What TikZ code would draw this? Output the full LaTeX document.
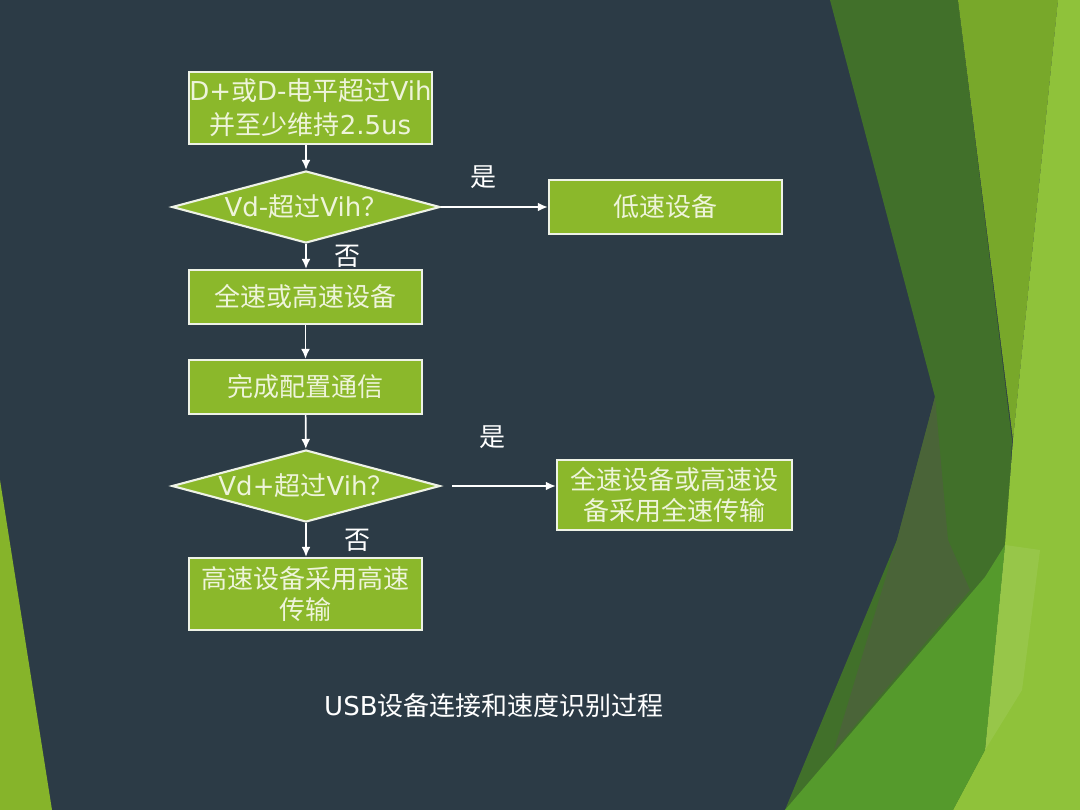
\documentclass[tikz,border=0pt]{standalone}
\usepackage{fontspec}
\setmainfont{Noto Sans CJK SC}
\newfontfamily\lat{DejaVu Sans}
\usetikzlibrary{shapes.geometric,arrows.meta}
\definecolor{tlo}{HTML}{2C3B46}
\definecolor{ziel}{HTML}{8BB82B}
\definecolor{napis}{HTML}{EEF4DA}
\definecolor{ramka}{HTML}{EEF2E6}
\definecolor{ciemnyziel}{HTML}{41702A}
\definecolor{sredniziel}{HTML}{78A82A}
\definecolor{jasnyziel}{HTML}{8FC23A}
\definecolor{mocnyziel}{HTML}{559A2C}
\definecolor{oliwka}{HTML}{4A6438}
\definecolor{lewyziel}{HTML}{86B42A}

\begin{document}
\begin{tikzpicture}[
  x=0.025cm, y=-0.025cm,
  font=\fontsize{18.5}{22}\selectfont,
  blk/.style={draw=ramka, line width=1.5pt, fill=ziel, text=napis, align=center,
    minimum width=5.83cm, minimum height=1.35cm, inner sep=0},
  romb/.style={diamond, aspect=3.72, draw=ramka, line width=1.5pt, fill=ziel, text=napis,
    minimum width=6.7cm, minimum height=1.8cm, inner sep=0},
  opis/.style={text=white, inner sep=0},
  strz/.style={draw=white, line width=1.2pt, -{Latex[length=2.5mm,width=2.2mm]}},
]
\useasboundingbox (0,0) rectangle (1080,810);
% Tlo
\fill[tlo] (0,0) rectangle (1080,810);
\fill[lewyziel] (0,480) -- (52,810) -- (0,810) -- cycle;
\fill[ciemnyziel] (830,0) -- (958,0) -- (1012,440) -- (995,810) -- (785,810)
  -- (897,540) -- (935,397) -- cycle;
\fill[oliwka] (935,397) -- (948,540) -- (970,590) -- (834,750) -- (897,540) -- cycle;
\fill[sredniziel] (958,0) -- (1058,0) -- (1013,440) -- cycle;
\fill[jasnyziel] (1058,0) -- (1080,0) -- (1080,810) -- (953,810) -- (985,750)
  -- (1005,545) -- (1013,440) -- cycle;
\fill[mocnyziel] (785,810) -- (985,577) -- (1005,545) -- (985,750) -- (953,810) -- cycle;
\fill[white, opacity=0.08] (1005,545) -- (1040,550) -- (1022,690) -- (985,750) -- cycle;

% Bloki
\node[blk, minimum width=6.075cm, minimum height=1.8cm, font=\fontsize{18.5}{24}\selectfont]
  (start) at (310.5,108) {{\lat D+}或{\lat D-}电平超过{\lat Vih}\\并至少维持{\lat 2.5us}};
\node[romb] (vdm) at (306,207) {{\lat Vd-}超过{\lat Vih}？};
\node[blk] (niski) at (665.5,207) {低速设备};
\node[blk] (pelny) at (305.5,297) {全速或高速设备};
\node[blk] (konf) at (305.5,387) {完成配置通信};
\node[romb] (vdp) at (306,486) {{\lat Vd+}超过{\lat Vih}？};
\node[blk, minimum width=5.88cm, minimum height=1.75cm] (fs) at (674.5,495) {全速设备或高速设\\备采用全速传输};
\node[blk, minimum height=1.8cm] (hs) at (305.5,594) {高速设备采用高速\\传输};
\node[opis] (podpis) at (494,706) {{\lat USB}设备连接和速度识别过程};

% Strzalki
\draw[strz] (vdm.north |- start.south) -- (vdm.north);
\draw[strz] (vdm.east) -- node[opis, above=0.45cm, pos=0.4] {是} (niski.west);
\draw[strz] (vdm.south) -- node[opis, right=0.7cm] {否} (vdm.south |- pelny.north);
\draw[strz] (pelny) -- (konf);
\draw[strz] (konf) -- (vdp);
\draw[strz, shorten <=0.28cm] (vdp.east) -- node[opis, above=0.92cm, pos=0.45] {是} (vdp.east -| fs.west);
\draw[strz] (vdp.south) -- node[opis, right=0.95cm] {否} (vdp.south |- hs.north);
\end{tikzpicture}
\end{document}
